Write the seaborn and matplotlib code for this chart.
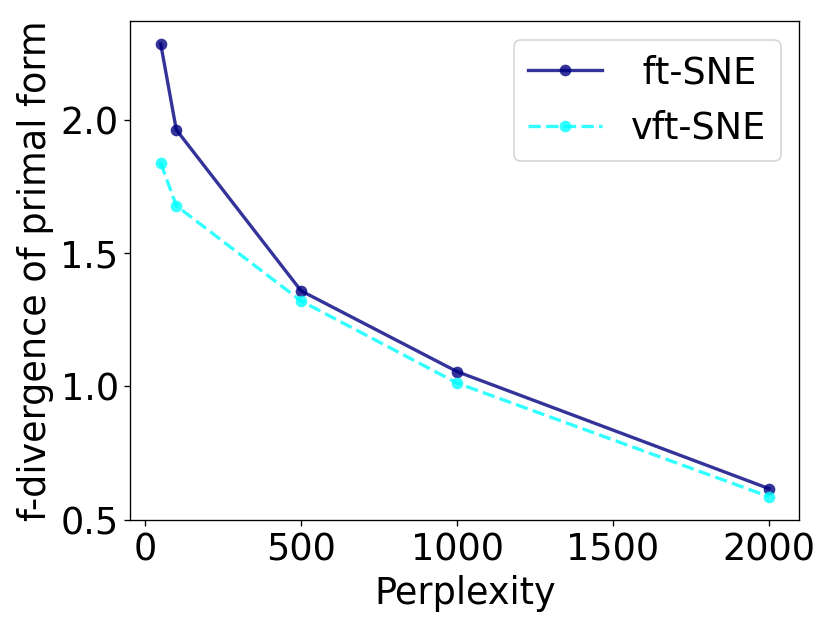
import numpy as np
import pandas as pd
import seaborn as sns
import matplotlib.pyplot as plt

perplexity = [50, 100, 500, 1000, 2000]
ft_sne = [2.285, 1.963, 1.359, 1.056, 0.617]
vft_sne = [1.839, 1.678, 1.321, 1.013, 0.587]

plt.rcParams['font.size'] = 22

fig, ax = plt.subplots(figsize=(830 / 120, 627 / 120), dpi=120)
fig.subplots_adjust(left=0.157, right=0.963, top=0.966, bottom=0.171)

sns.lineplot(x=perplexity, y=ft_sne, ax=ax, color='navy', alpha=0.8, marker='o',
             markersize=7, linewidth=2, markeredgewidth=0, label=' ft-SNE')
sns.lineplot(x=perplexity, y=vft_sne, ax=ax, color='cyan', alpha=0.8, marker='o',
             markersize=7, linewidth=2, markeredgewidth=0, linestyle='--', label='vft-SNE')

ax.set_xlabel('Perplexity')
ax.set_ylabel('f-divergence of primal form')
ax.set_yticks([0.5, 1.0, 1.5, 2.0])
ax.legend(loc='upper right')

fig.savefig('out.png', dpi=120)
